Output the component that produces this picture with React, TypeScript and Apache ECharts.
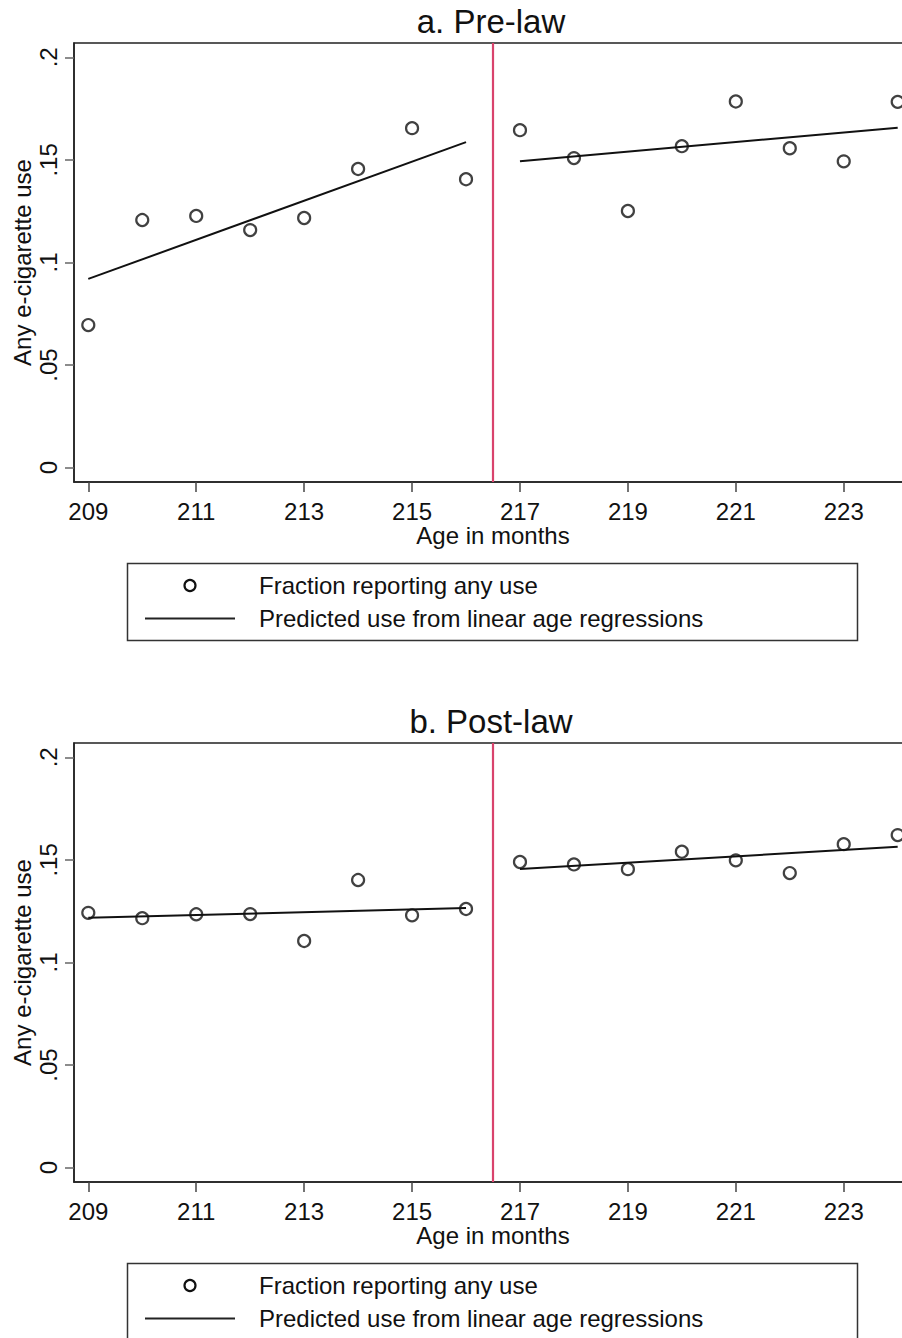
import React, { useEffect, useRef } from "react";
import * as echarts from "echarts";

// ---- data ----
const ages = [209, 210, 211, 212, 213, 214, 215, 216, 217, 218, 219, 220, 221, 222, 223, 224];
const preLawShare = [0.0695, 0.1207, 0.1227, 0.1158, 0.1217, 0.1456, 0.1655, 0.1406, 0.1645, 0.1509, 0.1251, 0.1567, 0.1785, 0.1557, 0.1493, 0.1783];
const postLawShare = [0.1242, 0.1216, 0.1235, 0.1236, 0.1105, 0.1402, 0.123, 0.1261, 0.149, 0.1478, 0.1455, 0.154, 0.1498, 0.1436, 0.1577, 0.1621];
const fitLeftAges = [209, 216];
const fitRightAges = [217, 224];
const preFitLeft = [0.092, 0.1587];
const preFitRight = [0.1494, 0.1657];
const postFitLeft = [0.1218, 0.1266];
const postFitRight = [0.1456, 0.1564];
const cutoffAge = 216.5;
const xTicks = [209, 211, 213, 215, 217, 219, 221, 223];
const yTicks = [0, 0.05, 0.1, 0.15, 0.2];
const yTickLabels = ["0", ".05", ".1", ".15", ".2"];
const panelTitles = ["a. Pre-law", "b. Post-law"];
const legendLabels = ["Fraction reporting any use", "Predicted use from linear age regressions"];
const xAxisTitle = "Age in months";
const yAxisTitle = "Any e-cigarette use";

const FONT = "Liberation Sans, Arial, sans-serif";
const TEXT = "#111";
const RED = "#d9436c";
const PANEL_OFFSET = 700;
const FS = 24;

function pairs(xs: number[], ys: number[]) {
  return xs.map((x, i) => [x, ys[i]]);
}

export default function App() {
  const ref = useRef<HTMLDivElement>(null);
  useEffect(() => {
    if (!ref.current) return;
    const chart = echarts.init(ref.current, null, { renderer: "svg" });

    const panels = [
      { share: preLawShare, left: preFitLeft, right: preFitRight },
      { share: postLawShare, left: postFitLeft, right: postFitRight },
    ];

    const grid = panels.map((_, i) => ({
      left: 74,
      right: 0,
      top: 43 + i * PANEL_OFFSET,
      height: 439,
      outerBoundsMode: "none",
      containLabel: false,
      show: true,
      borderColor: "#222",
      borderWidth: 1.5,
      backgroundColor: "#fff",
    }));

    const xAxis = panels.map((_, i) => ({
      gridIndex: i,
      type: "value",
      min: 208.735,
      max: 224.265,
      axisLine: { show: true, onZero: false, lineStyle: { color: "#222", width: 1.5 } },
      axisTick: { show: true, length: 10, customValues: xTicks, lineStyle: { color: "#444", width: 1.5 } },
      axisLabel: {
        customValues: xTicks,
        fontSize: FS,
        fontFamily: FONT,
        color: TEXT,
        margin: 17,
        formatter: (v: number) => String(v),
      },
      splitLine: { show: false },
      name: xAxisTitle,
      nameLocation: "middle",
      nameGap: 41,
      nameTextStyle: { fontSize: FS, fontFamily: FONT, color: TEXT },
    }));

    const yAxis = panels.map((_, i) => ({
      gridIndex: i,
      type: "value",
      min: -0.007,
      max: 0.207,
      axisLine: { show: true, onZero: false, lineStyle: { color: "#222", width: 1.5 } },
      axisTick: { show: true, length: 9, customValues: yTicks, lineStyle: { color: "#666", width: 1.5 } },
      axisLabel: {
        customValues: yTicks,
        rotate: 90,
        fontSize: FS,
        fontFamily: FONT,
        color: TEXT,
        margin: 14,
        formatter: (v: number) => {
          let best = 0;
          yTicks.forEach((t, k) => {
            if (Math.abs(t - v) < Math.abs(yTicks[best] - v)) best = k;
          });
          return yTickLabels[best];
        },
      },
      splitLine: { show: false },
      name: yAxisTitle,
      nameLocation: "middle",
      nameRotate: 90,
      nameGap: 40,
      nameMoveOverlap: false,
      nameTextStyle: { fontSize: FS, fontFamily: FONT, color: TEXT },
    }));

    const series: any[] = [];
    panels.forEach((p, i) => {
      series.push({
        type: "scatter",
        name: legendLabels[0],
        xAxisIndex: i,
        yAxisIndex: i,
        data: pairs(ages, p.share),
        symbol: "circle",
        symbolSize: 12,
        itemStyle: { color: "rgba(0,0,0,0)", borderColor: "#111", borderWidth: 2.2 },
        z: 3,
        markLine: {
          silent: true,
          symbol: "none",
          label: { show: false },
          lineStyle: { color: RED, width: 2.2, type: "solid" },
          data: [{ xAxis: cutoffAge }],
        },
      });
      [
        [fitLeftAges, p.left],
        [fitRightAges, p.right],
      ].forEach(([xs, ys]) => {
        series.push({
          type: "line",
          name: legendLabels[1],
          xAxisIndex: i,
          yAxisIndex: i,
          data: pairs(xs as number[], ys as number[]),
          symbol: "none",
          lineStyle: { color: "#111", width: 2 },
          z: 2,
        });
      });
    });

    const graphic: any[] = [];
    panels.forEach((_, i) => {
      const dy = i * PANEL_OFFSET;
      graphic.push({
        type: "text",
        x: 491,
        y: 21 + dy,
        style: {
          text: panelTitles[i],
          font: `33px ${FONT}`,
          fill: TEXT,
          textAlign: "center",
          textVerticalAlign: "middle",
        },
      });
      graphic.push({
        type: "rect",
        shape: { x: 127.5, y: 563.5 + dy, width: 730, height: 77 },
        style: { fill: "#fff", stroke: "#333", lineWidth: 1.5 },
      });
      graphic.push({
        type: "circle",
        shape: { cx: 190, cy: 585.5 + dy, r: 5.5 },
        style: { fill: "none", stroke: "#111", lineWidth: 2.2 },
      });
      graphic.push({
        type: "line",
        shape: { x1: 145, y1: 618.5 + dy, x2: 235, y2: 618.5 + dy },
        style: { stroke: "#222", lineWidth: 2 },
      });
      legendLabels.forEach((t, k) => {
        graphic.push({
          type: "text",
          x: 259,
          y: 585.5 + k * 33 + dy,
          style: {
            text: t,
            font: `${FS}px ${FONT}`,
            fill: TEXT,
            textAlign: "left",
            textVerticalAlign: "middle",
          },
        });
      });
    });

    chart.setOption({
      animation: false,
      backgroundColor: "#fff",
      grid,
      xAxis,
      yAxis,
      series,
      graphic,
    });
    return () => chart.dispose();
  }, []);

  return (
    <div style={{ position: "absolute", left: 0, top: 0, width: 902, height: 1338, overflow: "hidden" }}>
      <div ref={ref} style={{ width: 912, height: 1338 }} />
    </div>
  );
}
